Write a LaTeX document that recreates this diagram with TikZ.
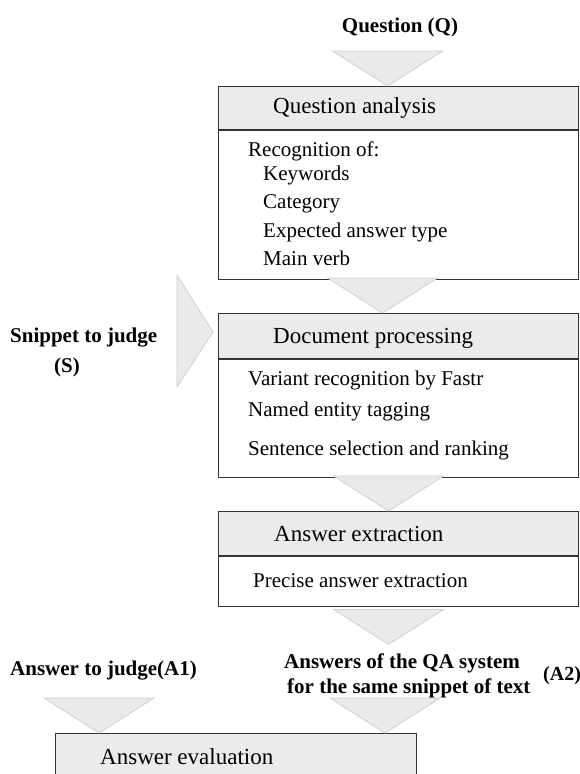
\documentclass[tikz,border=0pt]{standalone}
\usepackage{fontspec}
\setmainfont{Liberation Serif}
\usetikzlibrary{calc,positioning}
\definecolor{trigray}{HTML}{EAEAEA}
\definecolor{triedge}{HTML}{D0D0D0}
\definecolor{headgray}{HTML}{EBEBEB}
\definecolor{boxline}{HTML}{333333}
\tikzset{ %px = pt, y grows down
  {flow tri/.style} ={fill=trigray, draw=triedge, line width=0.8pt},
  {box head/.style} ={draw=boxline, fill=headgray, line width=1.2pt,
                      anchor=north west, minimum width=360pt, inner sep=0},
  {box body/.style} ={box head, fill=white},
  {head text/.style} ={anchor=west, inner sep=0,
                      font=\fontsize{23}{27}\selectfont,
                      text height=16pt, text depth=5pt},
  {body text/.style} ={anchor=west, inner sep=0,
                      font=\fontsize{21}{25}\selectfont,
                      text height=14.5pt, text depth=4.5pt},
  {in label/.style} ={inner sep=0, font=\fontsize{21}{25}\selectfont\bfseries,
                      text height=14.5pt, text depth=4.5pt},
}
% big grey arrow head, tip at #1
\newcommand{\flowtri}[1]{\draw[flow tri] ($#1+(-55,-35)$) -- #1 -- ($#1+(55,-35)$) -- cycle;}

\begin{document}
\begin{tikzpicture}[x=1pt,y=-1pt]
\clip (0,0) rectangle (580,774);
% boxes
\node[box head, minimum height=43pt] (qah) at (218,86) {};
\node[box body, minimum height=149pt] (qab) at (qah.south west) {};
\node[box head, minimum height=45pt] (dph) at (218,313) {};
\node[box body, minimum height=118pt] (dpb) at (dph.south west) {};
\node[box head, minimum height=44pt] (aeh) at (218,511) {};
\node[box body, minimum height=50pt] (aeb) at (aeh.south west) {};
\node[box head, minimum height=50pt, minimum width=361pt] (aevh) at (55,733) {};
\node[box body, minimum height=60pt, minimum width=361pt] (aevb) at (aevh.south west) {};

% arrows
\coordinate (tipq) at ([xshift=-11pt]qah.north);
\coordinate (tipd) at ([xshift=-16pt]dph.north);
\coordinate (tipe) at ([xshift=-10pt]aeh.north);
\coordinate (tipo) at ([shift={(-10pt,-37pt)}]aeb.south);
\coordinate (tipa) at ([xshift=44pt]aevh.north west);
\coordinate (tipb) at ([xshift=330pt]aevh.north west);
\foreach \t in {tipq,tipd,tipe,tipo,tipa,tipb}{
  \flowtri{(\t)}
}
\draw[flow tri] (177,275) -- (213,332) -- (177,387) -- cycle;

% headers
\node[head text] (qat) at ([xshift=55pt]qah.west) {Question analysis};
\node[head text] (dpt) at ([shift={(55pt,-1.5pt)}]dph.west) {Document processing};
\node[head text] (aet) at ([shift={(56pt,-2pt)}]aeh.west) {Answer extraction};
\node[head text] (aevt) at ([xshift=45pt]aevh.west) {Answer evaluation};

% box contents
\node[body text] (rec) at (248,151) {Recognition of:};
\node[body text] (kw) at (263,175) {Keywords};
\node[body text] (cat) at (263,203) {Category};
\node[body text] (eat) at (263,232) {Expected answer type};
\node[body text] (mv) at (263,260) {Main verb};
\node[body text] (var) at (248,380) {Variant recognition by Fastr};
\node[body text] (ner) at (248,411) {Named entity tagging};
\node[body text] (sel) at (248,450) {Sentence selection and ranking};
\node[body text] (pae) at (253,582) {Precise answer extraction};

% inputs
\node[in label] (q) at (400,27) {Question (Q)};
\node[in label, anchor=west] (s) at (10,337) {Snippet to judge};
\node[in label] (sid) at (67,367) {(S)};
\node[in label, anchor=west] (a1) at (10,670) {Answer to judge(A1)};
\node[in label, anchor=west] (a2) at (284,663) {Answers of the QA system};
\node[in label, anchor=west] (a2b) at ([shift={(3pt,-25pt)}]a2.west) {for the same snippet of text};
\node[in label, anchor=west, font=\fontsize{20}{24}\selectfont\bfseries] (a2id) at (543,675) {(A2)};
\end{tikzpicture}
\end{document}
